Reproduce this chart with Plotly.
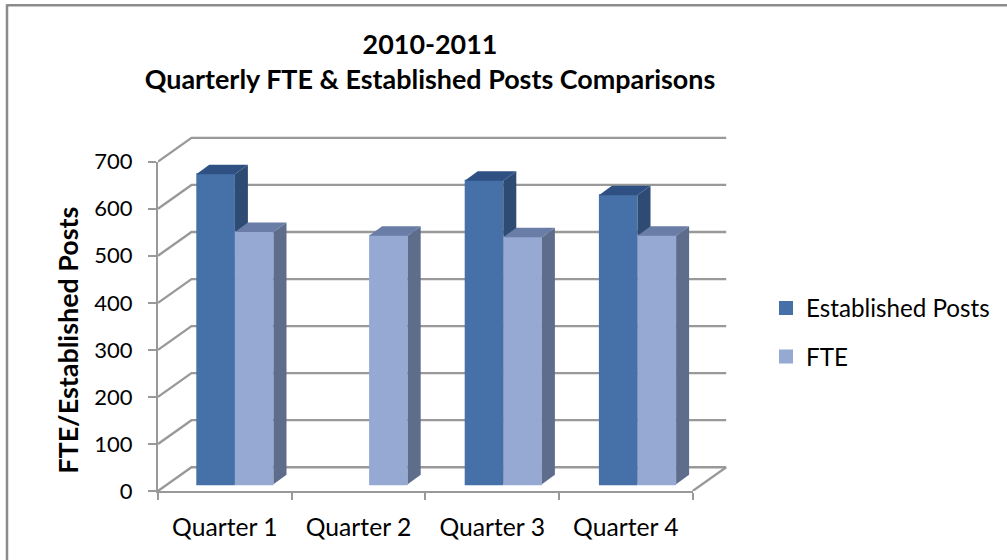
import plotly.graph_objects as go

quarters = ["Quarter 1", "Quarter 2", "Quarter 3", "Quarter 4"]
established_posts = [659, None, 645, 614]
fte = [536, 528, 525, 528]
y_ticks = [0, 100, 200, 300, 400, 500, 600, 700]

FONT = "Lato, Carlito, sans-serif"
GRID = "#999999"
LINE_W = 2.3
W, H = 1007, 560
# whole drawing area (front axes + back wall)
L, R, T, B = 158.0, 728.0, 136.0, 491.5
# front plane of the axes
FRONT_R, FRONT_T = 692.7, 161.7
PX_CAT = (FRONT_R - L) / 4
PX_VAL = (B - FRONT_T) / 700
WALL_DX, WALL_DV = 33.5 / PX_CAT, 23.8 / PX_VAL

BAR_PX = 134.2
BAR_X0 = 234.9
BAR_FLOOR = 484.7
BAR_W = 38.6 / BAR_PX
DEPTH_X, DEPTH_V = 13.0 / BAR_PX, 9.5 / PX_VAL


def px_x(p):
    return (p - L) / (R - L)


def px_y(p):
    return (B - p) / (B - T)


fig = go.Figure()

# back wall, side wall and floor
gx, gy = [], []
for v in y_ticks:
    gx += [-0.5, -0.5 + WALL_DX, 3.5 + WALL_DX, None]
    gy += [v, v + WALL_DV, v + WALL_DV, None]
gx += [3.5, 3.5 + WALL_DX]
gy += [0, WALL_DV]
fig.add_trace(go.Scatter(x=gx, y=gy, mode="lines", line=dict(color=GRID, width=LINE_W),
                         showlegend=False, hoverinfo="skip", xaxis="x", yaxis="y"))


def add_series(name, values, offset, front, side, top, xa, ya):
    xs = [i + offset for i in range(len(values))]
    fig.add_trace(go.Bar(x=xs, y=values, width=BAR_W - 2 / BAR_PX, name=name,
                         marker=dict(color=front, line=dict(color=front, width=2)),
                         cliponaxis=False, legendgroup=name, hoverinfo="skip",
                         xaxis=xa, yaxis=ya))
    for xc, v in zip(xs, values):
        if v is None:
            continue
        x0, x1 = xc - BAR_W / 2, xc + BAR_W / 2
        fig.add_trace(go.Scatter(
            x=[x1, x1 + DEPTH_X, x1 + DEPTH_X, x1, x1],
            y=[0, DEPTH_V, v + DEPTH_V, v, 0],
            mode="lines", fill="toself", fillcolor=side, line=dict(width=0, color=side),
            cliponaxis=False, showlegend=False, hoverinfo="skip", legendgroup=name,
            xaxis=xa, yaxis=ya))
        fig.add_trace(go.Scatter(
            x=[x0, x0 + DEPTH_X, x1 + DEPTH_X, x1, x0],
            y=[v, v + DEPTH_V, v + DEPTH_V, v, v],
            mode="lines", fill="toself", fillcolor=top, line=dict(width=0, color=top),
            cliponaxis=False, showlegend=False, hoverinfo="skip", legendgroup=name,
            xaxis=xa, yaxis=ya))


add_series("Established Posts", established_posts, -BAR_W / 2,
           "#4671A8", "#2D4B73", "#2E5083", "x2", "y2")
add_series("FTE", fte, BAR_W / 2,
           "#95A9D2", "#5F6D8D", "#6A7DA6", "x3", "y3")

# carrier for the visible front axes
fig.add_trace(go.Scatter(x=list(range(len(quarters))), y=[None] * len(quarters),
                         mode="lines", showlegend=False, hoverinfo="skip",
                         xaxis="x4", yaxis="y4"))

front_x = [0, px_x(FRONT_R)]
front_y = [0, px_y(FRONT_T)]
bar_xrange = [(L - BAR_X0) / BAR_PX, (FRONT_R - BAR_X0) / BAR_PX]
bar_yrange = [(BAR_FLOOR - B) / PX_VAL, (BAR_FLOOR - FRONT_T) / PX_VAL]

fig.update_layout(
    width=W, height=H, autosize=False,
    margin=dict(l=L, r=W - R, t=T, b=H - B, pad=0, autoexpand=False),
    paper_bgcolor="white", plot_bgcolor="rgba(0,0,0,0)",
    barmode="overlay",
    font=dict(family=FONT, color="#000000", size=22),
    title=dict(text="<b>2010-2011<br>Quarterly FTE &amp; Established Posts Comparisons</b>",
               x=430 / W, xanchor="center", y=1 - 54 / H, yanchor="middle",
               font=dict(size=26.9, family=FONT, color="#000000")),
    xaxis=dict(visible=False, domain=[0, 1], range=[-0.5, -0.5 + (R - L) / PX_CAT]),
    yaxis=dict(visible=False, domain=[0, 1], range=[0, (B - T) / PX_VAL]),
    xaxis2=dict(visible=False, domain=front_x, range=bar_xrange, anchor="y2"),
    yaxis2=dict(visible=False, domain=front_y, range=bar_yrange, anchor="x2"),
    xaxis3=dict(visible=False, domain=front_x, range=bar_xrange, anchor="y3"),
    yaxis3=dict(visible=False, domain=front_y, range=bar_yrange, anchor="x3"),
    xaxis4=dict(domain=front_x, range=[-0.5, 3.5], anchor="y4", tickmode="array",
                tickvals=list(range(len(quarters))), ticktext=quarters,
                ticks="", showgrid=False, zeroline=False, showline=True,
                linecolor=GRID, linewidth=LINE_W, ticklabelstandoff=13,
                tickfont=dict(size=24.7),
                minor=dict(tickmode="array", tickvals=[-0.5, 0.5, 1.5, 2.5, 3.5],
                           ticks="outside", ticklen=7, tickwidth=2, tickcolor=GRID,
                           showgrid=False)),
    yaxis4=dict(domain=front_y, range=[0, 700], anchor="x4", tickmode="array",
                tickvals=y_ticks, ticks="outside", ticklen=8, tickwidth=2, tickcolor=GRID,
                showgrid=False, zeroline=False, showline=True, linecolor=GRID, linewidth=LINE_W,
                ticklabelstandoff=11, tickfont=dict(size=22)),
    legend=dict(x=px_x(766), xanchor="left", y=px_y(286), yanchor="top",
                font=dict(size=24.2), tracegroupgap=14, bgcolor="rgba(0,0,0,0)",
                itemclick=False, itemdoubleclick=False),
    annotations=[dict(text="<b>FTE/Established Posts</b>", textangle=-90,
                      xref="paper", yref="paper", x=px_x(68), y=px_y(341),
                      xanchor="center", yanchor="middle", showarrow=False,
                      font=dict(size=26.9, family=FONT, color="#000000"))],
    shapes=[
        dict(type="line", xref="paper", yref="paper", layer="below",
             x0=px_x(7), x1=px_x(W + 2), y0=px_y(5), y1=px_y(5),
             line=dict(color="#8C8C8C", width=2.5)),
        dict(type="line", xref="paper", yref="paper", layer="below",
             x0=px_x(7), x1=px_x(7), y0=px_y(4), y1=px_y(H + 2),
             line=dict(color="#8C8C8C", width=2.5)),
    ],
)

fig.write_html("out.html", post_script="document.body.style.margin='0';",
               config=dict(displayModeBar=False))
